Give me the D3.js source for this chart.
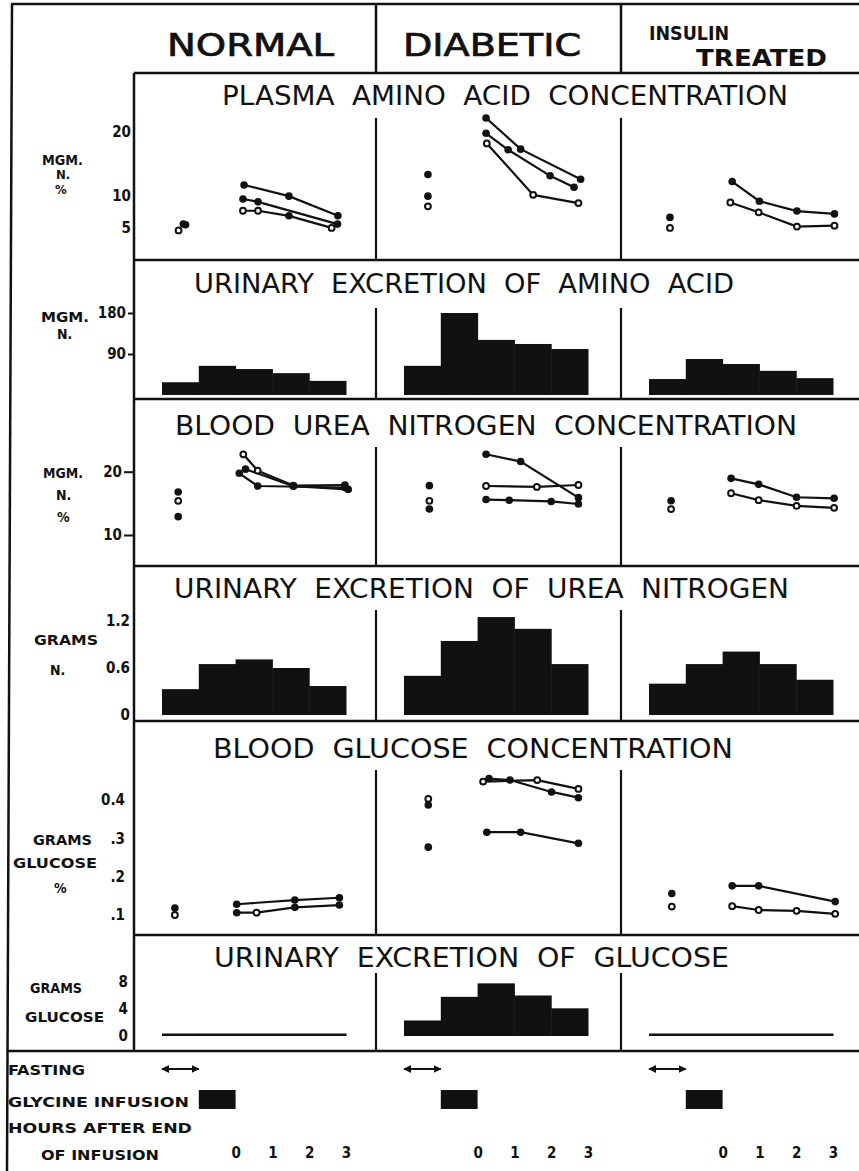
<!DOCTYPE html>
<html>
<head>
<meta charset="utf-8">
<script src="https://cdn.jsdelivr.net/npm/d3@7"></script>
<style>
  body { margin: 0; background: #fff; }
  svg { display: block; }
</style>
</head>
<body>
<div id="chart"></div>
<script>
// groups (columns)
const groups = ["NORMAL", "DIABETIC", "INSULIN TREATED"]
// urine collection periods in hours, relative to end of infusion
const periods = [[-2, -1], [-1, 0], [0, 1], [1, 2], [2, 3]]
const hours = [0, 1, 2, 3]
const hourText = ["0", "1", "2", "3"]

// points are [hours, value, filled]
// plasma amino acid, mgm N %
const aminoTicks = [5, 10, 20]
const aminoTickText = ["5", "10", "20"]
const aminoFasting = [
    [[-1.42, 5.5, 1], [-1.36, 5.4, 1], [-1.55, 4.5, 0]],
    [[-1.35, 13.3, 1], [-1.35, 9.9, 1], [-1.35, 8.3, 0]],
    [[-1.43, 6.55, 1], [-1.43, 4.9, 0]]
]
const aminoCurves = [
    [
        [[0.23, 11.65, 1], [1.45, 9.9, 1], [2.78, 6.8, 1]],
        [[0.2, 9.45, 1], [0.61, 9.0, 1], [2.77, 5.5, 1]],
        [[0.2, 7.6, 0], [0.61, 7.6, 0], [1.45, 6.8, 1], [2.61, 4.9, 0]]
    ],
    [
        [[0.23, 22.2, 1], [1.17, 17.3, 1], [2.8, 12.55, 1]],
        [[0.23, 19.8, 1], [0.83, 17.2, 1], [1.97, 13.1, 1], [2.62, 11.3, 1]],
        [[0.25, 18.2, 0], [1.51, 10.1, 0], [2.74, 8.8, 0]]
    ],
    [
        [[0.26, 12.2, 1], [1.0, 9.1, 1], [2.02, 7.55, 1], [3.04, 7.1, 1]],
        [[0.21, 8.9, 0], [0.98, 7.35, 0], [2.02, 5.1, 0], [3.04, 5.25, 0]]
    ]
]

// urinary amino acid, mgm N per period
const aminoUrineTicks = [90, 180]
const aminoUrineTickText = ["90", "180"]
const aminoUrine = [
    [28, 64, 57, 48, 31],
    [64, 180, 121, 112, 101],
    [35, 79, 68, 53, 37]
]

// blood urea nitrogen, mgm N %
const ureaTicks = [10, 20]
const ureaTickText = ["10", "20"]
const ureaFasting = [
    [[-1.56, 16.8, 1], [-1.56, 15.4, 0], [-1.56, 12.9, 1]],
    [[-1.31, 17.8, 1], [-1.31, 15.4, 0], [-1.31, 14.1, 1]],
    [[-1.4, 15.4, 1], [-1.4, 14.1, 0]]
]
const ureaCurves = [
    [
        [[0.21, 22.75, 0], [0.6, 20.16, 0], [1.57, 17.8, 0], [2.97, 17.9, 1]],
        [[0.27, 20.4, 1], [1.57, 17.7, 1], [3.06, 17.2, 1]],
        [[0.1, 19.75, 1], [0.6, 17.74, 1], [2.97, 17.5, 1]]
    ],
    [
        [[0.23, 22.75, 1], [1.17, 21.6, 1], [2.74, 15.9, 1]],
        [[0.23, 17.74, 0], [1.61, 17.6, 0], [2.74, 17.9, 0]],
        [[0.23, 15.6, 1], [0.86, 15.5, 1], [2.0, 15.3, 1], [2.74, 14.9, 1]]
    ],
    [
        [[0.23, 18.95, 1], [0.98, 18.0, 1], [2.01, 15.96, 1], [3.03, 15.8, 1]],
        [[0.23, 16.6, 0], [0.98, 15.5, 0], [2.01, 14.6, 0], [3.03, 14.3, 0]]
    ]
]

// urinary urea nitrogen, grams N per period
const ureaUrineTicks = [0, 0.6, 1.2]
const ureaUrineTickText = ["0", "0.6", "1.2"]
const ureaUrine = [
    [0.33, 0.65, 0.71, 0.60, 0.37],
    [0.50, 0.945, 1.25, 1.10, 0.65],
    [0.40, 0.65, 0.81, 0.65, 0.45]
]

// blood glucose, grams %
const glucoseTicks = [0.1, 0.2, 0.3, 0.4]
const glucoseTickText = [".1", ".2", ".3", "0.4"]
const glucoseFasting = [
    [[-1.65, 0.118, 1], [-1.65, 0.1, 0]],
    [[-1.34, 0.403, 0], [-1.34, 0.387, 1], [-1.34, 0.277, 1]],
    [[-1.38, 0.156, 1], [-1.38, 0.122, 0]]
]
const glucoseCurves = [
    [
        [[0.03, 0.128, 1], [1.61, 0.139, 1], [2.82, 0.145, 1]],
        [[0.03, 0.106, 1], [0.57, 0.106, 0], [1.61, 0.12, 1], [2.82, 0.126, 1]]
    ],
    [
        [[0.31, 0.456, 1], [0.88, 0.452, 1], [2.01, 0.421, 1], [2.74, 0.406, 1]],
        [[0.15, 0.448, 0], [1.62, 0.452, 0], [2.74, 0.429, 0]],
        [[0.25, 0.316, 1], [1.17, 0.316, 1], [2.74, 0.287, 1]]
    ],
    [
        [[0.26, 0.176, 1], [0.98, 0.176, 1], [3.06, 0.135, 1]],
        [[0.26, 0.123, 0], [0.98, 0.113, 0], [2.01, 0.111, 0], [3.06, 0.103, 0]]
    ]
]

// urinary glucose, grams per period
const glucoseUrineTicks = [0, 4, 8]
const glucoseUrineTickText = ["0", "4", "8"]
const glucoseUrine = [
    [0, 0, 0, 0, 0],
    [2.3, 5.8, 7.8, 6.0, 4.1],
    [0, 0, 0, 0, 0]
]

const W = 859, H = 1171
const plotLeft = 134
const dividers = [376, 621]
const colLeft = [134, 376, 621]
const titleFont = "'DejaVu Sans', sans-serif"
const labelFont = "'DejaVu Sans Condensed', 'DejaVu Sans', sans-serif"

const svg = d3.select("#chart").append("svg")
    .attr("width", W)
    .attr("height", H)
    .attr("font-family", titleFont)

// one time scale per column
const xs = colLeft.map(c => d3.scaleLinear().domain([-2, 3]).range([c + 28, c + 212]))

// labels: [text, x, baseline, width or null, size]
const panels = [
    {
        title: "PLASMA AMINO ACID CONCENTRATION", top: 73, bottom: 260, tx: 222, tw: 566, base: 105, divTop: 118,
        domain: [0, 20], range: [259, 132], ticks: aminoTicks, tickText: aminoTickText, tick: 0, pad: 3,
        fasting: aminoFasting, curves: aminoCurves,
        labels: [["MGM.", 42, 165, 41, 14], ["N.", 56, 179, null, 13], ["%", 55, 194, null, 13]]
    },
    {
        title: "URINARY EXCRETION OF AMINO ACID", top: 260, bottom: 399, tx: 194, tw: 540, base: 293, divTop: 308,
        domain: [0, 180], range: [395, 313], ticks: aminoUrineTicks, tickText: aminoUrineTickText, tick: 6, pad: 2,
        bars: aminoUrine,
        labels: [["MGM.", 41, 322, 48, 14], ["N.", 57, 339, null, 14]]
    },
    {
        title: "BLOOD UREA NITROGEN CONCENTRATION", top: 399, bottom: 566, tx: 175, tw: 622, base: 435, divTop: 447,
        domain: [10, 20], range: [535, 471.7], ticks: ureaTicks, tickText: ureaTickText, tick: 10, pad: 2,
        fasting: ureaFasting, curves: ureaCurves,
        labels: [["MGM.", 43, 478, 40, 14], ["N.", 56, 500, null, 14], ["%", 57, 522, null, 14]]
    },
    {
        title: "URINARY EXCRETION OF UREA NITROGEN", top: 566, bottom: 721, tx: 174, tw: 615, base: 598, divTop: 610,
        domain: [0, 1.2], range: [715, 621], ticks: ureaUrineTicks, tickText: ureaUrineTickText, tick: 0, pad: 4,
        bars: ureaUrine,
        labels: [["GRAMS", 34, 645, 64, 14], ["N.", 50, 675, null, 14]]
    },
    {
        title: "BLOOD GLUCOSE CONCENTRATION", top: 721, bottom: 935, tx: 213, tw: 520, base: 758, divTop: 770,
        domain: [0.1, 0.4], range: [915, 800], ticks: glucoseTicks, tickText: glucoseTickText, tick: 0, pad: 9,
        fasting: glucoseFasting, curves: glucoseCurves,
        labels: [["GRAMS", 33, 845, 59, 14], ["GLUCOSE", 13, 868, 84, 14], ["%", 54, 893, null, 14]]
    },
    {
        title: "URINARY EXCRETION OF GLUCOSE", top: 935, bottom: 1051, tx: 214, tw: 515, base: 967, divTop: 973,
        domain: [0, 8], range: [1036, 982], ticks: glucoseUrineTicks, tickText: glucoseUrineTickText, tick: 0, pad: 6,
        bars: glucoseUrine,
        labels: [["GRAMS", 30, 993, 52, 14], ["GLUCOSE", 25, 1022, 79, 14]]
    }
]

function rule(x1, y1, x2, y2, w) {
    svg.append("line")
        .attr("x1", x1).attr("y1", y1)
        .attr("x2", x2).attr("y2", y2)
        .attr("stroke", "#111")
        .attr("stroke-width", w || 2.5)
}

function label(t, x, y, w, size) {
    const el = svg.append("text")
        .attr("x", x).attr("y", y)
        .attr("font-family", labelFont)
        .attr("font-weight", "bold")
        .attr("font-size", size || 14)
        .attr("fill", "#111")
        .text(t)
    if (w) el.attr("textLength", w).attr("lengthAdjust", "spacingAndGlyphs")
}

// frame
rule(11, 4, W, 4)
rule(12, 4, 7, H)
dividers.forEach(d => rule(d, 4, d, 73))
rule(7, 1051, W, 1051)

// header
const header = svg.append("g").attr("fill", "#111").attr("font-family", labelFont)
header.append("text").attr("x", 167).attr("y", 56).attr("font-size", 32)
    .attr("stroke", "#111").attr("stroke-width", 0.7)
    .attr("textLength", 167).attr("lengthAdjust", "spacingAndGlyphs").text(groups[0])
header.append("text").attr("x", 403).attr("y", 56).attr("font-size", 32)
    .attr("stroke", "#111").attr("stroke-width", 0.7)
    .attr("textLength", 178).attr("lengthAdjust", "spacingAndGlyphs").text(groups[1])
header.append("text").attr("x", 649).attr("y", 40).attr("font-size", 20).attr("font-weight", "bold")
    .attr("textLength", 80).attr("lengthAdjust", "spacingAndGlyphs").text(groups[2].split(" ")[0])
header.append("text").attr("x", 696).attr("y", 66).attr("font-size", 23).attr("font-weight", "bold")
    .attr("textLength", 131).attr("lengthAdjust", "spacingAndGlyphs").text(groups[2].split(" ")[1])

const line = d3.line()

panels.forEach(p => {
    const y = d3.scaleLinear().domain(p.domain).range(p.range)

    rule(plotLeft, p.top, W, p.top)
    rule(plotLeft, p.top, plotLeft, p.bottom)
    dividers.forEach(d => rule(d, p.divTop, d, p.bottom, 2.2))

    svg.append("text")
        .attr("x", p.tx).attr("y", p.base)
        .attr("font-size", 26)
        .attr("word-spacing", 8)
        .attr("textLength", p.tw)
        .attr("lengthAdjust", "spacingAndGlyphs")
        .attr("fill", "#111")
        .text(p.title)

    const ax = svg.append("g")
        .attr("transform", `translate(${plotLeft},0)`)
        .call(d3.axisLeft(y)
            .tickValues(p.ticks)
            .tickFormat((d, i) => p.tickText[i])
            .tickSize(p.tick)
            .tickPadding(p.pad))
        .attr("font-family", labelFont)
        .attr("font-size", 15)
        .attr("font-weight", "bold")
        .call(g => g.select(".domain").remove())
    ax.selectAll(".tick line").attr("stroke-width", 2).attr("stroke", "#111")
    ax.selectAll(".tick text").attr("fill", "#111")

    p.labels.forEach(l => label(l[0], l[1], l[2], l[3], l[4]))

    groups.forEach((g, i) => {
        const x = xs[i]
        const gg = svg.append("g").attr("class", "group")

        if (p.bars) {
            const y0 = y(0)
            gg.selectAll("rect")
                .data(p.bars[i])
                .join("rect")
                .attr("x", (d, j) => x(periods[j][0]))
                .attr("width", (d, j) => x(periods[j][1]) - x(periods[j][0]) + 0.5)
                .attr("y", d => Math.min(y(d), y0 - 2.5))
                .attr("height", d => Math.max(y0 - y(d), 2.5))
                .attr("fill", "#111")
            return
        }

        gg.selectAll("path")
            .data(p.curves[i])
            .join("path")
            .attr("d", d => line(d.map(pt => [x(pt[0]), y(pt[1])])))
            .attr("fill", "none")
            .attr("stroke", "#111")
            .attr("stroke-width", 2.2)

        const pts = p.fasting[i].concat(...p.curves[i])
        gg.selectAll("circle")
            .data(pts)
            .join("circle")
            .attr("cx", d => x(d[0]))
            .attr("cy", d => y(d[1]))
            .attr("r", d => d[2] ? 3.8 : 2.9)
            .attr("fill", d => d[2] ? "#111" : "#fff")
            .attr("stroke", "#111")
            .attr("stroke-width", d => d[2] ? 0 : 2)
    })
})

// legend rows at the bottom
label("FASTING", 8, 1075, 77)
label("GLYCINE INFUSION", 8, 1107, 181)
label("HOURS AFTER END", 8, 1133, 184)
label("OF INFUSION", 41, 1160, 118)

svg.append("defs").append("marker")
    .attr("id", "tip")
    .attr("viewBox", "0 0 10 10")
    .attr("refX", 9).attr("refY", 5)
    .attr("markerWidth", 4).attr("markerHeight", 4)
    .attr("orient", "auto-start-reverse")
    .append("path").attr("d", "M0,0L10,5L0,10z").attr("fill", "#111")

xs.forEach(x => {
    svg.append("line")
        .attr("x1", x(-2)).attr("x2", x(-1))
        .attr("y1", 1069).attr("y2", 1069)
        .attr("stroke", "#111").attr("stroke-width", 2)
        .attr("marker-start", "url(#tip)")
        .attr("marker-end", "url(#tip)")

    svg.append("rect")
        .attr("x", x(-1)).attr("y", 1090)
        .attr("width", x(0) - x(-1)).attr("height", 19)
        .attr("fill", "#111")

    svg.append("g")
        .attr("transform", "translate(0,1147)")
        .call(d3.axisBottom(x).tickValues(hours).tickFormat((d, i) => hourText[i]).tickSize(0).tickPadding(0))
        .attr("font-family", labelFont)
        .attr("font-size", 15)
        .attr("font-weight", "bold")
        .call(g => g.select(".domain").remove())
        .selectAll("text").attr("fill", "#111")
})
</script>
</body>
</html>
